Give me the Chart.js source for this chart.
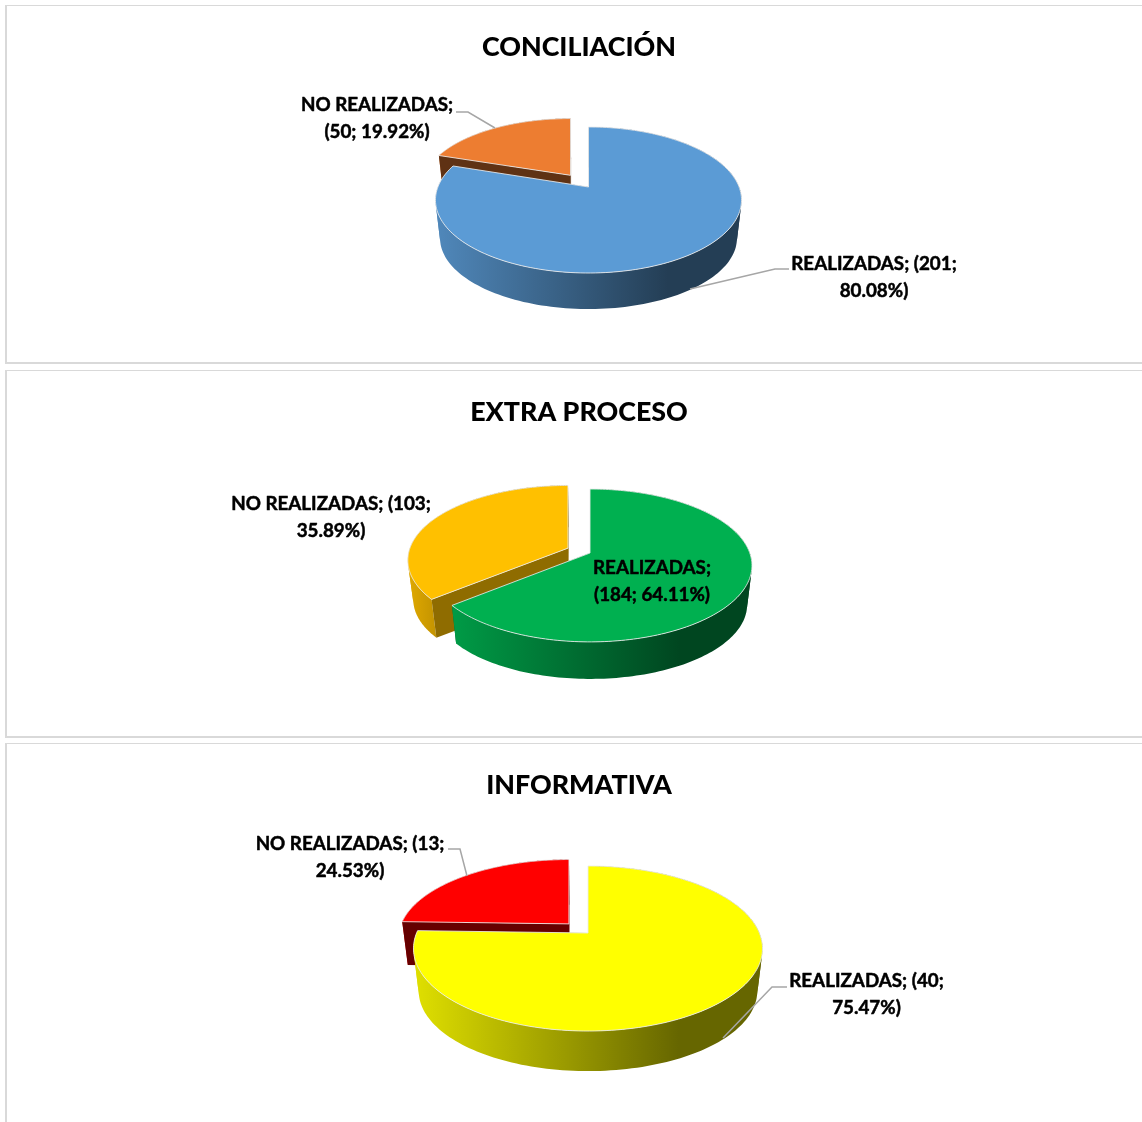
<!DOCTYPE html>
<html>
<head>
<meta charset="utf-8">
<title>Audiencias</title>
<script src="https://cdn.jsdelivr.net/npm/chart.js@4"></script>
<style>
  html, body { margin: 0; padding: 0; background: #fff; }
  body { width: 1142px; height: 1122px; overflow: hidden; position: relative; }
  .panel { position: absolute; left: 5px; width: 1200px; box-sizing: border-box; border: 2px solid #d9d9d9; border-top-width: 1.5px; }
  canvas { position: absolute; left: 5px; }
</style>
</head>
<body>
<div class="panel" style="top:5px;height:359px"></div>
<div class="panel" style="top:370px;height:368px"></div>
<div class="panel" style="top:743px;height:420px"></div>
<canvas id="c1" width="1148" height="358" style="top:5px"></canvas>
<canvas id="c2" width="1148" height="367" style="top:370px"></canvas>
<canvas id="c3" width="1148" height="379" style="top:743px"></canvas>
<script>
const categories = ['REALIZADAS', 'NO REALIZADAS']
const titles = ['CONCILIACIÓN', 'EXTRA PROCESO', 'INFORMATIVA']
const conciliacion = [201, 50]
const extraProceso = [184, 103]
const informativa = [40, 13]

const LABEL_FONT = 'bold 18.8px Lato'
const PIE_RADIUS = 100

// draws the pie tilted: the library gives the angles, this maps them onto the tilted disc
const pie3d = {
  id: 'pie3d',
  beforeDatasetsDraw(chart, args, o) {
    const ctx = chart.ctx
    const arcs = chart.getDatasetMeta(0).data
    ctx.save()
    ctx.translate(-5, -o.top)
    for (let i = arcs.length - 1; i >= 0; i--) drawSlice(ctx, arcs[i], o)
    ctx.restore()
    return false
  },
  afterDraw(chart, args, o) {
    const ctx = chart.ctx
    ctx.save()
    ctx.translate(-5, -o.top)
    ctx.strokeStyle = '#a6a6a6'
    ctx.lineWidth = 1.5
    o.leaders.forEach(pts => {
      ctx.beginPath()
      pts.forEach((p, i) => i ? ctx.lineTo(p[0], p[1]) : ctx.moveTo(p[0], p[1]))
      ctx.stroke()
    })
    const values = chart.data.datasets[0].data
    const total = values.reduce((a, b) => a + b, 0)
    ctx.font = LABEL_FONT
    ctx.fillStyle = '#000'
    ctx.strokeStyle = '#000'
    ctx.lineWidth = 0.5
    ctx.lineJoin = 'round'
    ctx.textAlign = 'center'
    ctx.textBaseline = 'middle'
    o.labels.forEach((l, i) => {
      const words = `${chart.data.labels[i]}; (${values[i]}; ${(values[i] / total * 100).toFixed(2)}%)`.split(' ')
      const lines = [words.slice(0, l.split).join(' '), words.slice(l.split).join(' ')]
      lines.forEach((t, j) => {
        ctx.fillText(t, l.x, l.y + j * 27)
        ctx.strokeText(t, l.x, l.y + j * 27)
      })
    })
    ctx.restore()
  },
}

// (ou, ov) is where the slice's tip sits on the disc, exploded slices keep their cut edge upright
function project(o, ou, ov, u, v, low) {
  const w = 1 - o.persp * v
  const w0 = 1 - o.persp * ov
  const s = low ? o.shrink : 1
  return [o.cx + s * o.rx * (ou / w0 + (u - ou) / w), o.cy + (low ? o.depth : 0) + s * o.ry * v / w]
}

function shade(hex, f) {
  const n = parseInt(hex.slice(1), 16)
  return `rgb(${Math.round((n >> 16) * f)},${Math.round(((n >> 8) & 255) * f)},${Math.round((n & 255) * f)})`
}

function poly(ctx, pts) {
  ctx.beginPath()
  pts.forEach((p, i) => i ? ctx.lineTo(p[0], p[1]) : ctx.moveTo(p[0], p[1]))
  ctx.closePath()
}

function stripSign(a, b, c) {
  return Math.sign((b[0] - a[0]) * (c[1] - a[1]) - (b[1] - a[1]) * (c[0] - a[0]))
}

function drawSlice(ctx, arc, o) {
  const color = arc.options.backgroundColor
  const mid = (arc.startAngle + arc.endAngle) / 2
  const off = arc.options.offset / arc.outerRadius
  const ou = Math.cos(mid) * off
  const ov = Math.sin(mid) * off
  const rim = low => {
    const pts = []
    const n = 180
    for (let k = 0; k <= n; k++) {
      const a = arc.startAngle + (arc.endAngle - arc.startAngle) * k / n
      pts.push(project(o, ou, ov, ou + Math.cos(a), ov + Math.sin(a), low))
    }
    return pts
  }
  const top = rim(false)
  const low = rim(true)
  const apex = project(o, ou, ov, ou, ov, false)
  const apexLow = project(o, ou, ov, ou, ov, true)

  const drawCuts = () => {
    ctx.fillStyle = shade(color, o.cutShade)
    poly(ctx, [apex, top[0], low[0], apexLow]); ctx.fill()
    poly(ctx, [apex, top[top.length - 1], low[low.length - 1], apexLow]); ctx.fill()
  }
  // outer wall, light on the left and dark on the right
  // runs facing the same way go in one polygon so nothing cancels out and no seams show
  const drawWall = () => {
    const xs = top.concat(low).map(p => p[0])
    const x0 = Math.min(...xs)
    const x1 = Math.max(...xs)
    const g = ctx.createLinearGradient(x0, 0, x1, 0)
    g.addColorStop(0, shade(color, 0.88))
    g.addColorStop(0.76, shade(color, 0.4))
    g.addColorStop(1, shade(color, 0.4))
    ctx.fillStyle = g
    let from = 0
    for (let k = 1; k <= top.length - 1; k++) {
      const end = k === top.length - 1
      if (end || stripSign(top[k], top[k + 1], low[k]) !== stripSign(top[from], top[from + 1], low[from])) {
        poly(ctx, top.slice(from, k + 1).concat(low.slice(from, k + 1).reverse()))
        ctx.fill()
        from = k
      }
    }
  }

  if (arc.endAngle - arc.startAngle > Math.PI) {
    drawCuts()
    drawWall()
  } else {
    drawWall()
    drawCuts()
  }

  // top face with its thin bevel line
  poly(ctx, [apex].concat(top))
  ctx.fillStyle = color
  ctx.fill()
  ctx.strokeStyle = 'rgba(235,235,235,0.85)'
  ctx.lineWidth = 1
  ctx.stroke()
}

Chart.register(pie3d)

function makePie(id, title, values, colors, explode, tilt) {
  new Chart(document.getElementById(id), {
    type: 'pie',
    data: {
      labels: categories,
      datasets: [{ data: values, backgroundColor: colors, offset: [0, explode], borderWidth: 0 }],
    },
    options: {
      responsive: false,
      animation: false,
      events: [],
      radius: PIE_RADIUS,
      plugins: {
        legend: { display: false },
        tooltip: { enabled: false },
        title: {
          display: true,
          text: title,
          color: '#000',
          padding: { top: 26, bottom: 0 },
          font: { family: 'Lato', size: 26.8, weight: '900' },
        },
        pie3d: tilt,
      },
    },
  })
}

makePie('c1', titles[0], conciliacion, ['#5B9BD5', '#ED7D31'], 21, {
  top: 5, cx: 588.5, cy: 187, rx: 150.6, ry: 70.7, persp: 0.178, depth: 38.6, shrink: 0.97, cutShade: 0.4,
  labels: [{ x: 874, y: 264, split: 2 }, { x: 377, y: 105, split: 2 }],
  leaders: [[[690, 289], [775, 269], [789, 269]], [[456, 112], [468, 112], [495, 128]]],
})
makePie('c2', titles[1], extraProceso, ['#00B050', '#FFC000'], 15.4, {
  top: 370, cx: 590, cy: 553, rx: 159.8, ry: 74.4, persp: 0.163, depth: 39.7, shrink: 0.97, cutShade: 0.56,
  labels: [{ x: 652, y: 568, split: 1 }, { x: 331, y: 504, split: 3 }],
  leaders: [],
})
makePie('c3', titles[2], informativa, ['#FFFF00', '#FF0000'], 16.3, {
  top: 743, cx: 588, cy: 933, rx: 171.4, ry: 79.6, persp: 0.188, depth: 43, shrink: 0.97, cutShade: 0.4,
  labels: [{ x: 866.5, y: 981, split: 2 }, { x: 350, y: 844, split: 3 }],
  leaders: [[[723, 1038], [772, 987], [787, 987]], [[448, 849], [460, 849], [467, 876]]],
})
</script>
</body>
</html>
